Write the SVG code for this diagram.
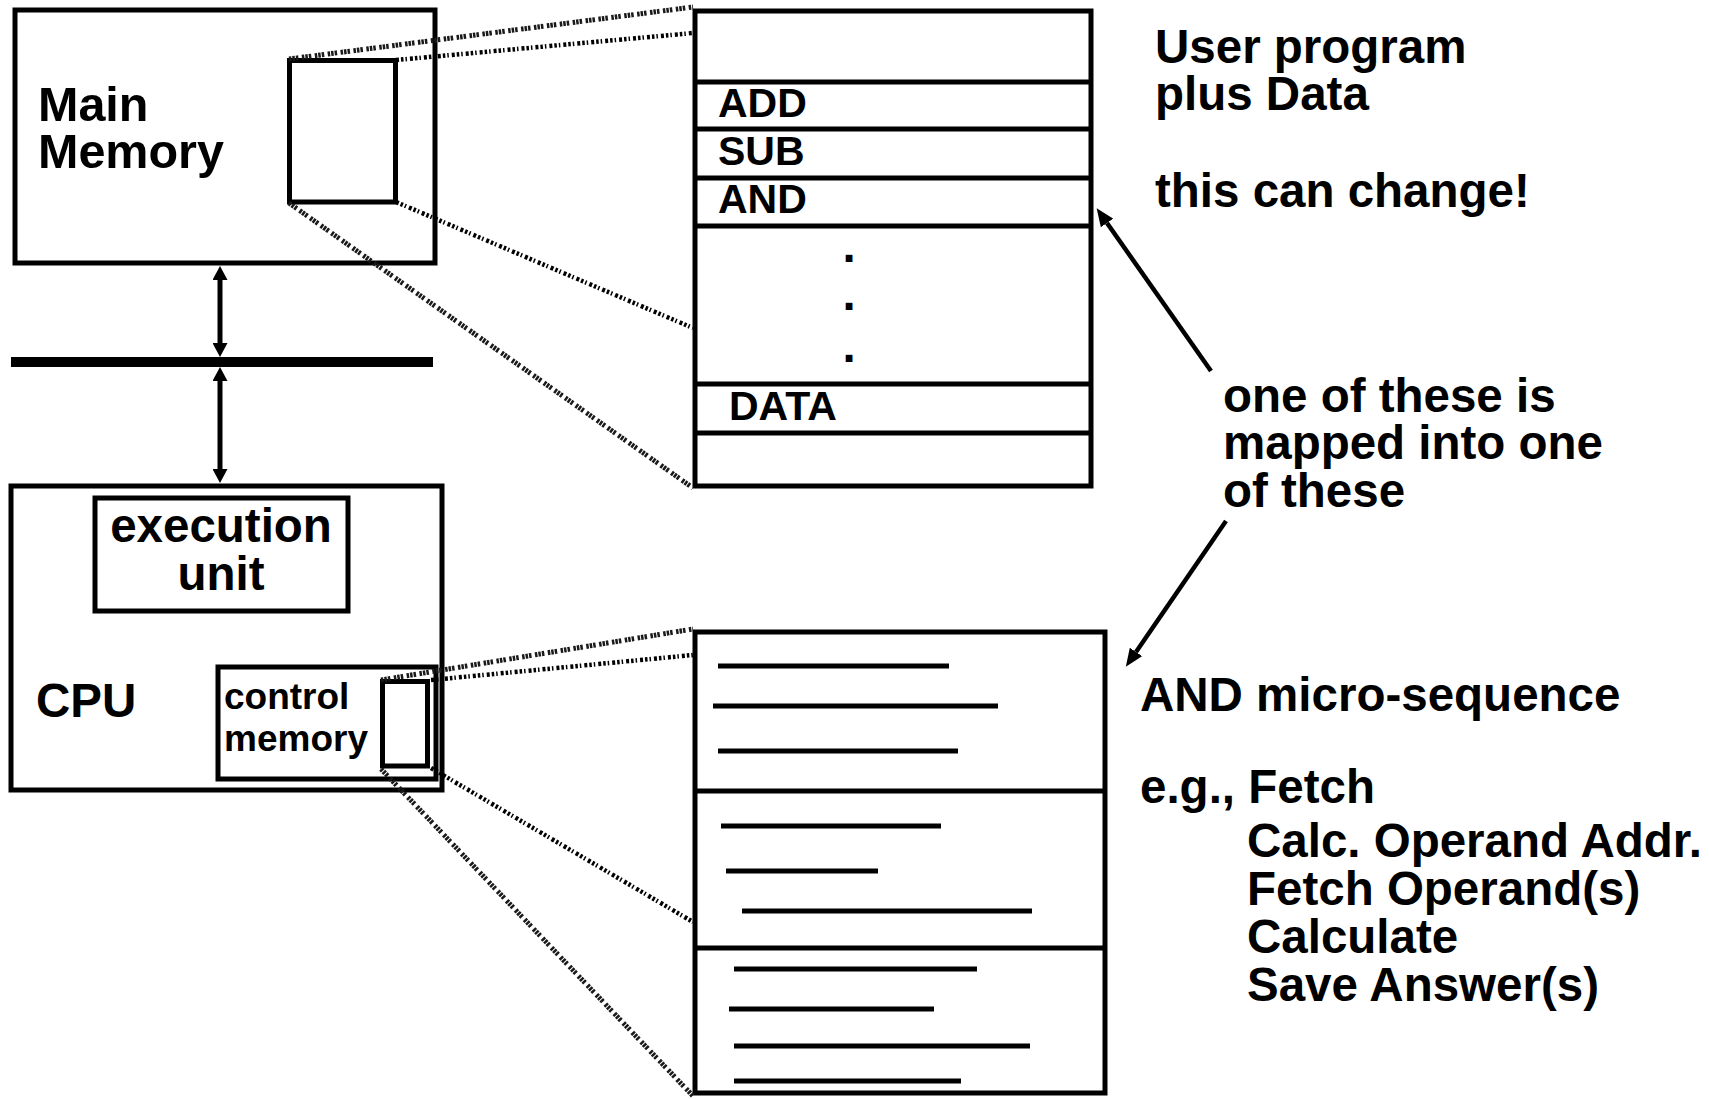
<svg xmlns="http://www.w3.org/2000/svg" width="1709" height="1099" viewBox="0 0 1709 1099">
  <defs>
    <style>
      .box { fill: none; stroke: #000; stroke-width: 5; }
      .rule { stroke: #000; stroke-width: 5; }
      .t { font-family: "Liberation Sans", Arial, sans-serif; font-weight: bold; fill: #000; }
      .big { font-size: 47.5px; }
      .mid { font-size: 41px; }
      .small { font-size: 37px; }
      .proj-outer { stroke: #1a1a1a; stroke-width: 5; fill: none; stroke-dasharray: 2.5 1 2.5 1 2.5 3.5; }
      .proj-inner { stroke: #000; stroke-width: 4.5; fill: none; stroke-dasharray: 3 2 2.5 2 1.5 3; }
      .arrow { stroke: #000; stroke-width: 4.5; fill: none; }
      .bus-arrow { stroke: #000; stroke-width: 5; fill: none; }
    </style>
    <marker id="bus-head" viewBox="0 0 14 15" refX="0" refY="7.5" markerWidth="14" markerHeight="15" markerUnits="userSpaceOnUse" orient="auto-start-reverse">
      <path d="M0,0 L14,7.5 L0,15 z" fill="#000"/>
    </marker>
    <marker id="head" viewBox="0 0 18 15" refX="0" refY="7.5" markerWidth="18" markerHeight="15" markerUnits="userSpaceOnUse" orient="auto">
      <path d="M0,0 L18,7.5 L0,15 z" fill="#000"/>
    </marker>
  </defs>

  <rect width="1709" height="1099" fill="#fff"/>

  <!-- main memory with the highlighted region -->
  <g id="main-memory">
    <rect class="box" x="15" y="10" width="420" height="253"/>
    <rect class="box" x="289.5" y="60.5" width="106" height="141.5"/>
    <text class="t" font-size="48.5" x="38" y="121">Main</text>
    <text class="t" font-size="48.5" x="38" y="168">Memory</text>
  </g>

  <!-- system bus -->
  <g id="bus">
    <rect x="11" y="357" width="422" height="10" fill="#000"/>
  </g>

  <!-- CPU -->
  <g id="cpu">
    <rect class="box" x="11" y="486" width="431" height="304"/>
    <text class="t big" x="36" y="717">CPU</text>
  </g>

  <g id="execution-unit">
    <rect class="box" x="95" y="498" width="253" height="113"/>
    <text class="t big" x="221" y="542" text-anchor="middle">execution</text>
    <text class="t big" x="221" y="590" text-anchor="middle">unit</text>
  </g>

  <g id="control-memory">
    <rect class="box" x="218" y="667" width="218" height="112"/>
    <rect class="box" x="382.5" y="681.5" width="45" height="84.5"/>
    <text class="t small" x="224" y="709">control</text>
    <text class="t small" x="224" y="751">memory</text>
  </g>

  <!-- expanded view of main memory -->
  <g id="memory-contents">
    <rect class="box" x="695" y="11" width="396" height="475"/>
    <line class="rule" x1="695" y1="82" x2="1091" y2="82"/>
    <line class="rule" x1="695" y1="129" x2="1091" y2="129"/>
    <line class="rule" x1="695" y1="178" x2="1091" y2="178"/>
    <line class="rule" x1="695" y1="226" x2="1091" y2="226"/>
    <line class="rule" x1="695" y1="384" x2="1091" y2="384"/>
    <line class="rule" x1="695" y1="433" x2="1091" y2="433"/>
    <text class="t mid" x="718" y="117">ADD</text>
    <text class="t mid" x="718" y="165">SUB</text>
    <text class="t mid" x="718" y="213">AND</text>
    <text class="t big" x="849" y="262" text-anchor="middle">.</text>
    <text class="t big" x="849" y="310" text-anchor="middle">.</text>
    <text class="t big" x="849" y="362" text-anchor="middle">.</text>
    <text class="t mid" x="729" y="420">DATA</text>
  </g>

  <!-- expanded view of control memory -->
  <g id="micro-sequence">
    <rect class="box" x="695" y="632" width="410" height="461"/>
    <line class="rule" x1="695" y1="791" x2="1105" y2="791"/>
    <line class="rule" x1="695" y1="948" x2="1105" y2="948"/>
    <line class="rule" x1="718" y1="666" x2="949" y2="666"/>
    <line class="rule" x1="713" y1="706" x2="998" y2="706"/>
    <line class="rule" x1="718" y1="751" x2="958" y2="751"/>
    <line class="rule" x1="721" y1="826" x2="941" y2="826"/>
    <line class="rule" x1="726" y1="871" x2="878" y2="871"/>
    <line class="rule" x1="742" y1="911" x2="1032" y2="911"/>
    <line class="rule" x1="734" y1="969" x2="977" y2="969"/>
    <line class="rule" x1="729" y1="1009" x2="934" y2="1009"/>
    <line class="rule" x1="734" y1="1046" x2="1030" y2="1046"/>
    <line class="rule" x1="734" y1="1081" x2="961" y2="1081"/>
  </g>

  <!-- annotations -->
  <g id="notes">
    <text class="t big" x="1155" y="63">User program</text>
    <text class="t big" x="1155" y="110">plus Data</text>
    <text class="t big" x="1155" y="207">this can change!</text>
    <text class="t big" x="1223" y="412">one of these is</text>
    <text class="t big" x="1223" y="459">mapped into one</text>
    <text class="t big" x="1223" y="507">of these</text>
    <text class="t big" x="1140" y="711">AND micro-sequence</text>
    <text class="t big" x="1140" y="803">e.g., Fetch</text>
    <text class="t big" x="1247" y="857">Calc. Operand Addr.</text>
    <text class="t big" x="1247" y="905">Fetch Operand(s)</text>
    <text class="t big" x="1247" y="953">Calculate</text>
    <text class="t big" x="1247" y="1001">Save Answer(s)</text>
  </g>

  <!-- connectors -->
  <g id="connectors">
    <!-- bus links -->
    <line class="bus-arrow" x1="220" y1="280" x2="220" y2="343" marker-start="url(#bus-head)" marker-end="url(#bus-head)"/>
    <line class="bus-arrow" x1="220" y1="381" x2="220" y2="469" marker-start="url(#bus-head)" marker-end="url(#bus-head)"/>

    <!-- zoom projections: main memory -->
    <line class="proj-outer" x1="289" y1="59" x2="693" y2="7"/>
    <line class="proj-inner" x1="396" y1="60" x2="693" y2="33"/>
    <line class="proj-inner" x1="396" y1="202" x2="693" y2="328"/>
    <line class="proj-outer" x1="289" y1="203" x2="693" y2="488"/>

    <!-- zoom projections: control memory -->
    <line class="proj-outer" x1="381" y1="680" x2="693" y2="629"/>
    <line class="proj-inner" x1="431" y1="680" x2="693" y2="655"/>
    <line class="proj-inner" x1="431" y1="768" x2="693" y2="922"/>
    <line class="proj-outer" x1="381" y1="769" x2="693" y2="1096"/>

    <!-- mapping arrows -->
    <line class="arrow" x1="1211" y1="371" x2="1107" y2="223" marker-end="url(#head)"/>
    <line class="arrow" x1="1226" y1="521" x2="1136" y2="652" marker-end="url(#head)"/>
  </g>
</svg>
